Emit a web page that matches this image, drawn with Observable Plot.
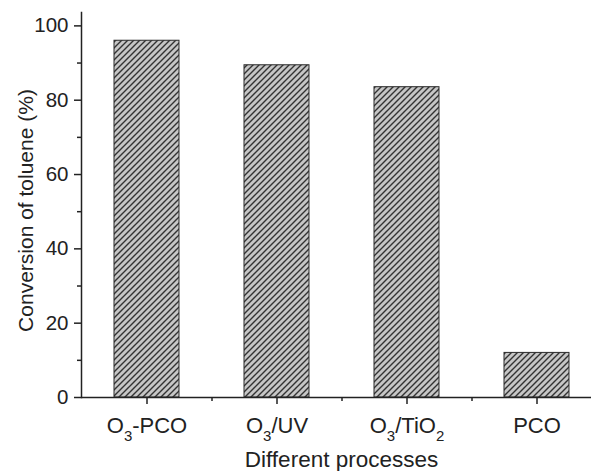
<!DOCTYPE html>
<html><head><meta charset="utf-8">
<script src="https://cdn.jsdelivr.net/npm/d3@7"></script>
<script src="https://cdn.jsdelivr.net/npm/@observablehq/plot@0.6"></script>
<style>
body{margin:0;background:#fff;}
#chart svg{overflow:visible;display:block}
</style></head><body><div id="chart"></div>
<script>
const processes = ["O3-PCO", "O3/UV", "O3/TiO2", "PCO"];
const conversion = [96, 89.4, 83.5, 12];
// tick label pieces: [text, isSubscript]
const tickLabels = {
  "O3-PCO": [["O", 0], ["3", 1], ["-PCO", 0]],
  "O3/UV": [["O", 0], ["3", 1], ["/UV", 0]],
  "O3/TiO2": [["O", 0], ["3", 1], ["/TiO", 0], ["2", 1]],
  "PCO": [["PCO", 0]]
};
const yMajor = [0, 20, 40, 60, 80, 100];
const yMinor = [10, 30, 50, 70, 90];
const xTitle = "Different processes";
const yTitle = "Conversion of toluene (%)";

const data = processes.map((p, i) => ({process: p, value: conversion[i]}));
const ink = "#222";

const svg = Plot.plot({
  width: 591, height: 471,
  marginLeft: 81, marginRight: -10, marginTop: 12, marginBottom: 74,
  style: {fontFamily: "'Liberation Sans', Arial, sans-serif", background: "#fff", color: ink, overflow: "visible"},
  x: {domain: processes, range: [81, 601], paddingInner: 0.5, paddingOuter: 0.25, axis: null},
  y: {domain: [0, 103.6], axis: null},
  marks: [
    Plot.barY(data, {x: "process", y: "value", fill: "url(#hatch)", stroke: "#2a2a2a", strokeWidth: 1}),
    Plot.frame({anchor: "left", stroke: ink, strokeWidth: 1.5}),
    Plot.ruleY([0], {stroke: ink, strokeWidth: 1.5}),
    Plot.axisY(yMajor, {tickSize: 7, tickPadding: 6, fontSize: 20.5, label: null, stroke: ink, strokeWidth: 1.5, fill: ink}),
    Plot.axisY(yMinor, {tickSize: 4, tickFormat: () => "", label: null, stroke: ink, strokeWidth: 1.5}),
    Plot.axisX({tickSize: 7, tickPadding: 13, fontSize: 22, label: null, stroke: ink, strokeWidth: 1.5, fill: ink}),
    Plot.axisX(processes.slice(0, 3), {tickSize: 4, dx: 65, tickFormat: () => "", label: null, stroke: ink, strokeWidth: 1.5}),
    Plot.text([yTitle], {frameAnchor: "left", rotate: -90, dx: -55, dy: 5.5, fontSize: 21, textAnchor: "middle", lineAnchor: "middle", fill: ink}),
    Plot.text([xTitle], {frameAnchor: "bottom", dy: 62.5, fontSize: 22.5, textAnchor: "middle", lineAnchor: "middle", fill: ink})
  ]
});

// hatch pattern definition
const s = d3.select(svg);
const defs = s.insert("defs", ":first-child");
const pat = defs.append("pattern").attr("id", "hatch").attr("patternUnits", "userSpaceOnUse")
  .attr("width", 6).attr("height", 6);
pat.append("rect").attr("width", 6).attr("height", 6).attr("fill", "#c6c6c6");
pat.append("path").attr("d", "M-1,1 l2,-2 M0,6 l6,-6 M5,7 l2,-2")
  .attr("stroke", "#333").attr("stroke-width", 1.4);

// subscripts in x tick labels
s.selectAll("text").each(function() {
  const t = this.textContent;
  if (tickLabels[t] && this.children.length === 0) {
    const el = d3.select(this);
    el.text(null);
    let lowered = false;
    for (const [str, sub] of tickLabels[t]) {
      const ts = el.append("tspan").text(str);
      if (sub && !lowered) { ts.attr("dy", 8).attr("font-size", 15); lowered = true; }
      else if (!sub && lowered) { ts.attr("dy", -8); lowered = false; }
      else if (sub) ts.attr("font-size", 15);
    }
  }
});

document.getElementById("chart").appendChild(svg);
</script></body></html>
